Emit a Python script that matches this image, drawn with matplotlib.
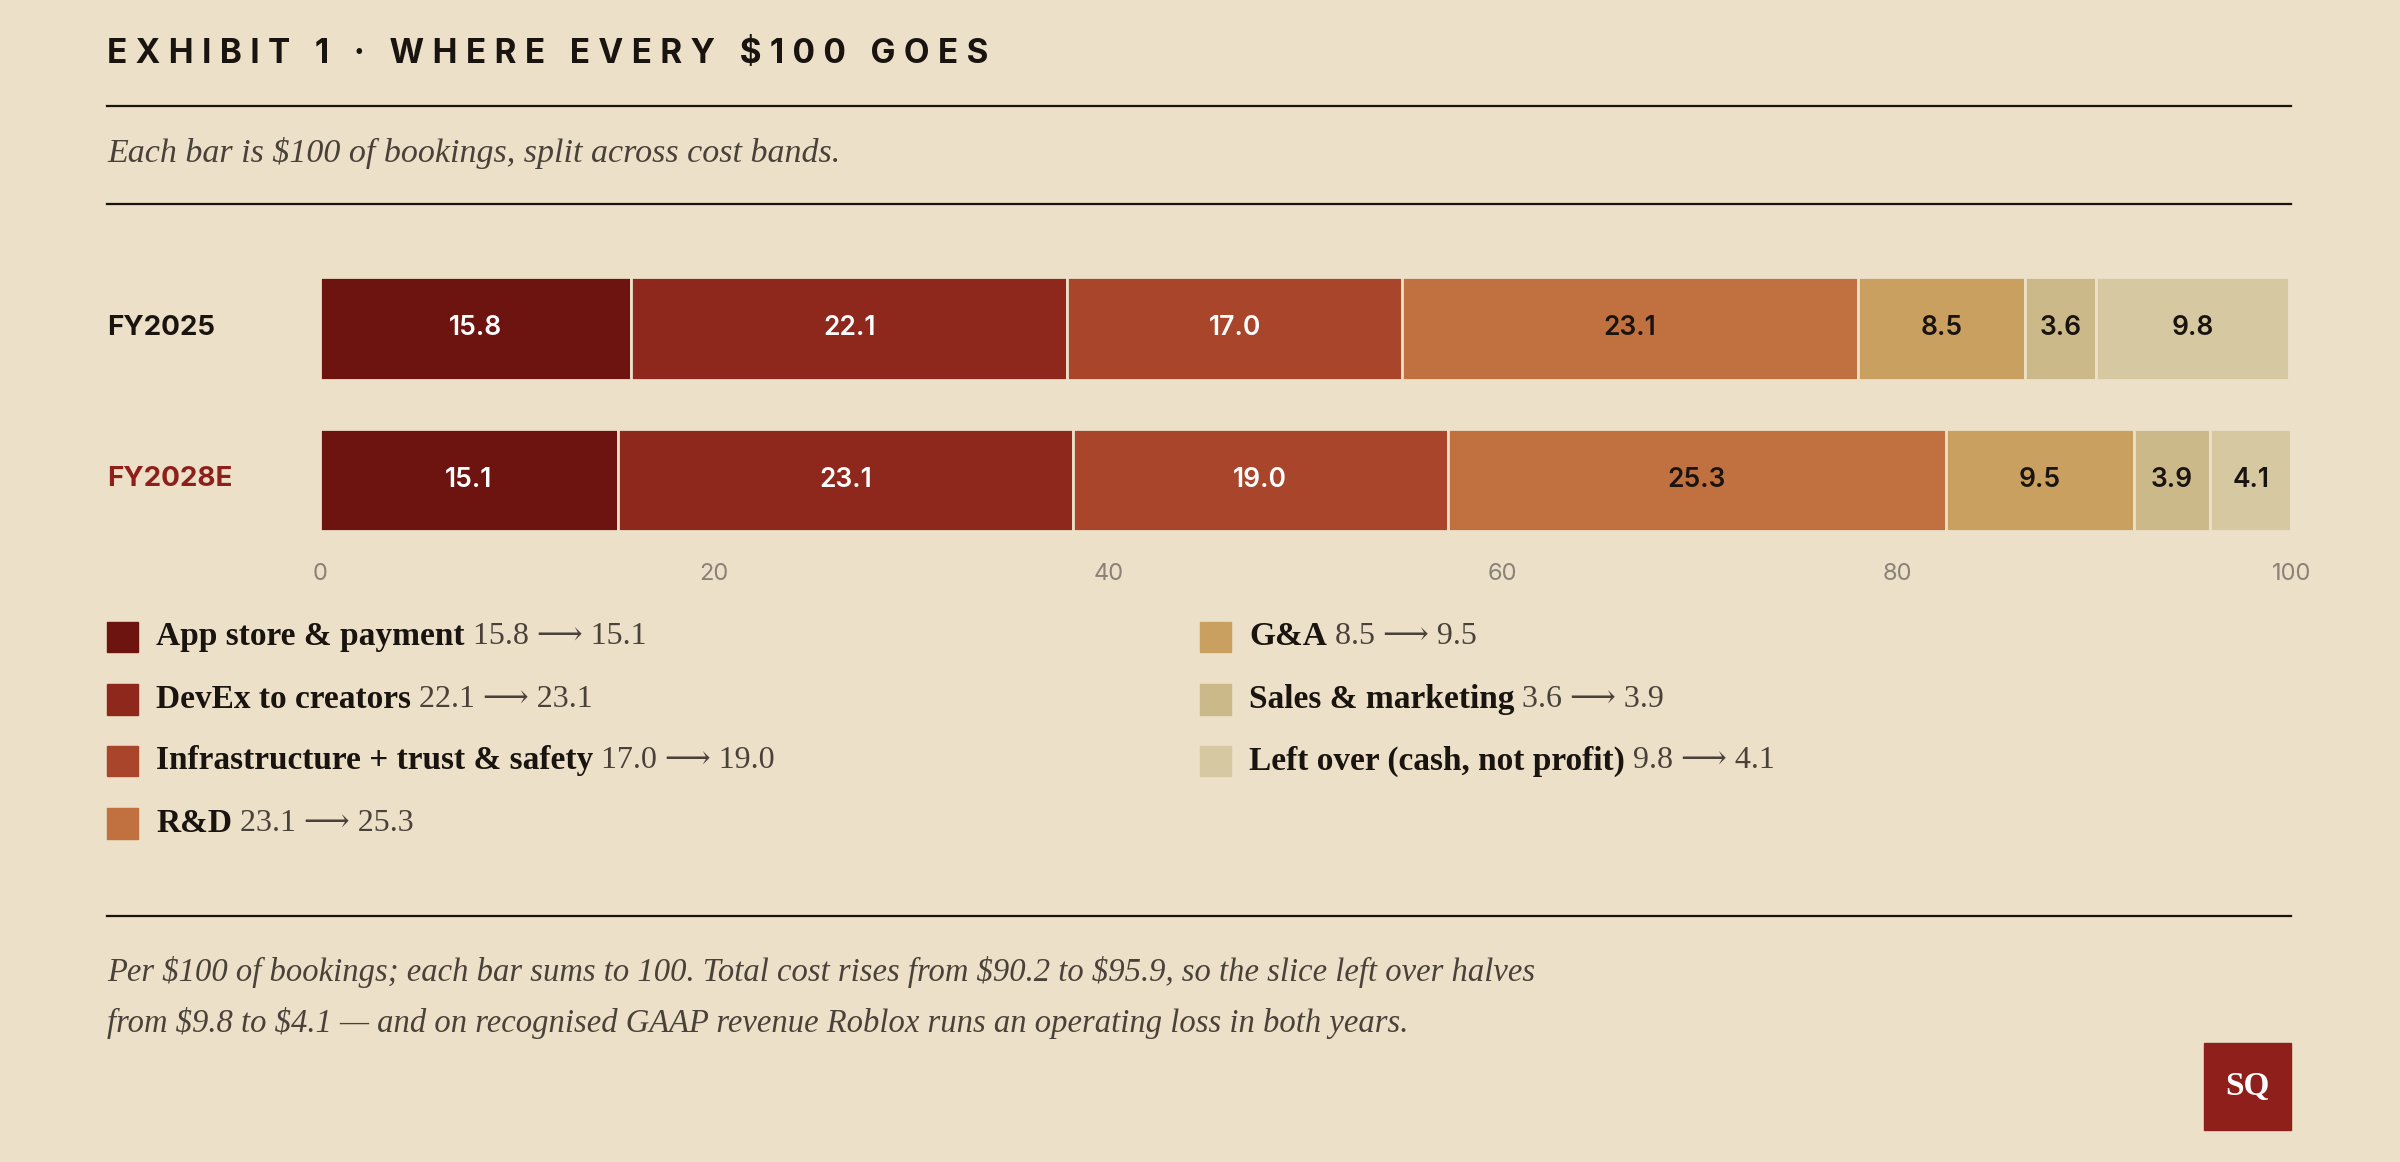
import matplotlib
matplotlib.use("Agg")
import matplotlib.pyplot as plt
from matplotlib.patches import Rectangle

years = ["FY2025", "FY2028E"]
bands = ["App store & payment", "DevEx to creators", "Infrastructure + trust & safety",
         "R&D", "G&A", "Sales & marketing", "Left over (cash, not profit)"]
fy2025 = [15.8, 22.1, 17.0, 23.1, 8.5, 3.6, 9.8]
fy2028 = [15.1, 23.1, 19.0, 25.3, 9.5, 3.9, 4.1]
colors = ["#6e1410", "#8e281d", "#a8452b", "#c0713f", "#c9a060", "#cbb98a", "#d6c8a0"]
text_colors = ["white", "white", "white", "#1a1410", "#1a1410", "#1a1410", "#1a1410"]

BG = "#ece0c8"
INK = "#1a1410"
W, H = 1568, 759

fig = plt.figure(figsize=(24, 11.62), dpi=100, facecolor=BG)

def fx(x):
    return x / W

def fy(y):
    return 1 - y / H

sans = ["Inter", "DejaVu Sans"]
serif = ["Liberation Serif", "DejaVu Serif"]

title = "\u2005".join("EXHIBIT 1 · WHERE EVERY $100 GOES").replace("$", r"\$")
fig.text(fx(70), fy(35), title, family=sans, weight="bold", fontsize=24,
         color=INK, va="center", ha="left")
for y in (69, 133, 598):
    fig.add_artist(plt.Line2D([fx(70), fx(1497)], [fy(y), fy(y)], color=INK, lw=1.6))
fig.text(fx(70), fy(100), r"Each bar is \$100 of bookings, split across cost bands.",
         family=serif, style="italic", fontsize=24.5, color="#4a423a", va="center")

ax = fig.add_axes([fx(209), fy(347), fx(1497) - fx(209), fy(181) - fy(347)])
ax.set_facecolor(BG)
for i, vals in enumerate([fy2025, fy2028]):
    left = 0
    for v, c, tc in zip(vals, colors, text_colors):
        ax.barh(i, v, left=left, height=0.677, color=c, edgecolor=BG, linewidth=2)
        ax.text(left + v / 2, i, f"{v:.1f}", ha="center", va="center",
                family=sans, weight="semibold", fontsize=19, color=tc)
        left += v
ax.set_xlim(0, 100)
ax.set_ylim(1.338, -0.338)
ax.set_yticks([])
ax.set_xticks(range(0, 101, 20))
ax.tick_params(axis="x", length=0, labelsize=17, labelcolor="#8a8278", pad=23)
for lbl in ax.get_xticklabels():
    lbl.set_family(sans)
for s in ax.spines.values():
    s.set_visible(False)

fig.text(fx(70), fy(214), years[0], family=sans, weight="bold", fontsize=20,
         color=INK, va="center")
fig.text(fx(70), fy(313), years[1], family=sans, weight="bold", fontsize=20,
         color="#8e1f1a", va="center")

# legend
pos = [(70, 416), (70, 457), (70, 497), (70, 538), (784, 416), (784, 457), (784, 497)]
renderer = fig.canvas.get_renderer()
for (x, y), name, a, b, c in zip(pos, bands, fy2025, fy2028, colors):
    fig.add_artist(Rectangle((fx(x), fy(y + 10)), fx(20), fy(0) - fy(20),
                             color=c, transform=fig.transFigure))
    t = fig.text(fx(x + 32), fy(y), name, family=serif, weight="bold",
                 fontsize=24, color=INK, va="center")
    bb = t.get_window_extent(renderer).transformed(fig.transFigure.inverted())
    fig.text(bb.x1, fy(y), f" {a:.1f} \u27f6 {b:.1f}", family=serif, fontsize=23,
             color="#4a423a", va="center")

fig.text(fx(70), fy(635), r"Per \$100 of bookings; each bar sums to 100. Total cost rises from \$90.2 to \$95.9, so the slice left over halves",
         family=serif, style="italic", fontsize=23.5, color="#4a423a", va="center")
fig.text(fx(70), fy(668), "from \\$9.8 to \\$4.1 \u2014 and on recognised GAAP revenue Roblox runs an operating loss in both years.",
         family=serif, style="italic", fontsize=23.5, color="#4a423a", va="center")

fig.add_artist(Rectangle((fx(1440), fy(738)), fx(57), fy(0) - fy(57),
                         color="#8e1f1a", transform=fig.transFigure))
fig.text(fx(1468.5), fy(710), "SQ", family=serif, weight="bold", fontsize=24,
         color="white", ha="center", va="center")

fig.savefig("out.png", dpi=100, facecolor=BG)
